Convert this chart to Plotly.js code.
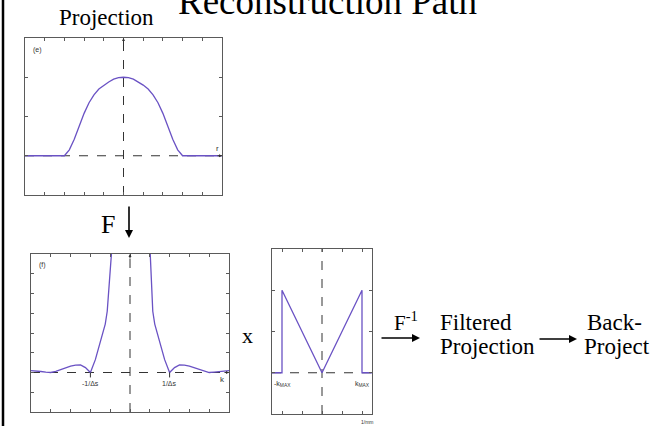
<!DOCTYPE html>
<html>
<head>
<meta charset="utf-8">
<script src="https://cdn.plot.ly/plotly-3.0.1.min.js"></script>
<style>html,body{margin:0;padding:0;background:#fff;}#chart{width:661px;height:426px;}</style>
</head>
<body>
<div id="chart"></div>
<script>
// ---- data ----
const projX = [-5, -4, -3, -2.75, -2.5, -2.25, -2, -1.75, -1.5, -1.25, -1, -0.75, -0.5, -0.25, 0, 0.25, 0.5, 0.75, 1, 1.25, 1.5, 1.75, 2, 2.25, 2.5, 2.75, 3, 4, 5];
const projY = [0, 0, 0, 0.15, 0.42, 0.75, 1.08, 1.35, 1.55, 1.7, 1.8, 1.88, 1.95, 1.99, 2.0, 1.99, 1.95, 1.88, 1.8, 1.7, 1.55, 1.35, 1.08, 0.75, 0.42, 0.15, 0, 0, 0];

const ftX = [-5, -4.75, -4.5, -4.25, -4, -3.75, -3.5, -3.25, -3, -2.75, -2.5, -2.25, -2, -1.75, -1.5, -1.25, -1.15, -1.0, -0.5, 0, 0.5, 1.0, 1.15, 1.25, 1.5, 1.75, 2, 2.25, 2.5, 2.75, 3, 3.25, 3.5, 3.75, 4, 4.25, 4.5, 4.75, 5];
const ftY = [0.09, 0.08, 0.05, 0.02, 0.0, 0.06, 0.15, 0.24, 0.32, 0.37, 0.38, 0.25, 0.0, 0.65, 1.55, 2.45, 3.1, 6.5, 12, 14, 12, 6.5, 3.1, 2.45, 1.55, 0.65, 0.0, 0.25, 0.38, 0.37, 0.32, 0.24, 0.15, 0.06, 0.0, 0.02, 0.05, 0.08, 0.09];

const filtX = [-2.5, -2, -2, 0, 2, 2, 2.5];
const filtY = [0, 0, 2, 0, 2, 0, 0];

const deltaLabels = ['-1/\u0394s', '1/\u0394s'];
const deltaPos = [-2, 2];
const kmaxLabels = ['-k<sub>MAX</sub>', 'k<sub>MAX</sub>'];
const kmaxPos = [-2, 2];

// ---- layout helpers ----
const W = 661, H = 426;
const px = x => x / W;
const py = y => 1 - y / H;
const purple = '#6a52c4';
const boxCol = '#5a5a5a';

function ax(domain, range, dtick) {
  return {
    domain: domain, range: range, dtick: dtick, tick0: 0,
    showgrid: false, zeroline: false, showticklabels: false,
    ticks: 'inside', ticklen: 3, tickcolor: boxCol, tickwidth: 1,
    showline: true, linecolor: boxCol, linewidth: 1, mirror: 'ticks',
    fixedrange: true
  };
}

const traces = [
  {x: projX, y: projY, xaxis: 'x', yaxis: 'y', mode: 'lines', line: {color: purple, width: 1.3}, hoverinfo: 'skip'},
  {x: ftX, y: ftY, xaxis: 'x2', yaxis: 'y2', mode: 'lines', line: {color: purple, width: 1.3}, hoverinfo: 'skip'},
  {x: filtX, y: filtY, xaxis: 'x3', yaxis: 'y3', mode: 'lines', line: {color: purple, width: 1.3}, hoverinfo: 'skip'}
];

const shapes = [];
[['x', 'y'], ['x2', 'y2'], ['x3', 'y3']].forEach(([xa, ya]) => {
  shapes.push({type: 'line', xref: xa, yref: ya + ' domain', x0: 0, x1: 0, y0: 0, y1: 1, layer: 'below',
    line: {color: '#333', width: 1, dash: 'dash'}});
  shapes.push({type: 'line', xref: xa + ' domain', yref: ya, x0: 0, x1: 1, y0: 0, y1: 0, layer: 'below',
    line: {color: '#333', width: 1, dash: 'dash'}});
});
// small tick marks at the +-1/Δs zeros
deltaPos.forEach(v => {
  shapes.push({type: 'line', xref: 'x2', yref: 'y2', x0: v, x1: v, y0: 0, y1: -0.25, line: {color: '#333', width: 1}});
});
// left border bar
shapes.push({type: 'line', xref: 'paper', yref: 'paper', x0: px(3), x1: px(3), y0: 0, y1: 1, line: {color: '#000', width: 2.5}});

const serif = 'Liberation Serif';
const sans = 'Liberation Sans, Arial, sans-serif';
function txt(text, x, y, size, opts) {
  return Object.assign({text: text, x: px(x), y: py(y), xref: 'paper', yref: 'paper', showarrow: false,
    xanchor: 'center', yanchor: 'middle', font: {family: serif, size: size, color: '#000'}}, opts || {});
}
function arrow(hx, hy, dx, dy, w, size) {
  return {text: '', x: px(hx), y: py(hy), xref: 'paper', yref: 'paper', showarrow: true,
    ax: dx, ay: dy, arrowhead: 2, arrowsize: size || 1, arrowwidth: w || 1.5, arrowcolor: '#000'};
}

const annotations = [
  txt('Reconstruction Path', 328, 2, 37),
  txt('Projection', 106.5, 18, 23),
  txt('F', 107.5, 224, 26),
  txt('x', 247, 335, 22),
  txt('F<sup>-1</sup>', 392, 321, 21, {xanchor: 'left'}),
  txt('Filtered', 438, 322, 23, {xanchor: 'left'}),
  txt('Projection', 438, 346, 23, {xanchor: 'left'}),
  txt('Back-', 585, 322, 23, {xanchor: 'left'}),
  txt('Project', 582, 346, 23, {xanchor: 'left'}),
  arrow(129, 238, 0, -33, 1.6, 1),
  arrow(420, 338, -40, 0, 1.6, 1),
  arrow(577, 339, -39, 0, 1.6, 1),
  txt('(e)', 37, 50, 7, {font: {family: sans, size: 7, color: '#333'}}),
  txt('r', 217, 148, 8, {font: {family: sans, size: 8, color: '#333'}}),
  txt('(f)', 42, 265, 7, {font: {family: sans, size: 7, color: '#333'}}),
  txt('k', 222, 379, 8, {font: {family: sans, size: 8, color: '#333'}}),
  txt('1/mm', 367, 422, 5, {font: {family: sans, size: 5, color: '#333'}}),
  // axis arrowheads
  {text: '', x: 0, y: 1, xref: 'x', yref: 'y domain', showarrow: true, ax: 0, ay: 6, arrowhead: 2, arrowsize: 0.6, arrowwidth: 1, arrowcolor: '#333'},
  {text: '', x: 1, y: 0, xref: 'x domain', yref: 'y', showarrow: true, ax: -6, ay: 0, arrowhead: 2, arrowsize: 0.6, arrowwidth: 1, arrowcolor: '#333'},
  {text: '', x: 0, y: 1, xref: 'x2', yref: 'y2 domain', showarrow: true, ax: 0, ay: 6, arrowhead: 2, arrowsize: 0.6, arrowwidth: 1, arrowcolor: '#333'},
  {text: '', x: 1, y: 0, xref: 'x2 domain', yref: 'y2', showarrow: true, ax: -6, ay: 0, arrowhead: 2, arrowsize: 0.6, arrowwidth: 1, arrowcolor: '#333'}
];
deltaLabels.forEach((t, i) => {
  annotations.push({text: t, x: deltaPos[i], y: -0.3, xref: 'x2', yref: 'y2', showarrow: false, yanchor: 'top',
    font: {family: sans, size: 7, color: '#333'}});
});
kmaxLabels.forEach((t, i) => {
  annotations.push({text: t, x: kmaxPos[i], y: -0.12, xref: 'x3', yref: 'y3', showarrow: false, yanchor: 'top',
    font: {family: sans, size: 7, color: '#333'}});
});

const layout = {
  width: W, height: H,
  margin: {l: 0, r: 0, t: 0, b: 0},
  paper_bgcolor: '#fff', plot_bgcolor: '#fff',
  showlegend: false,
  xaxis: ax([px(25), px(222)], [-5, 5], 1),
  yaxis: ax([py(195), py(38)], [-1, 3], 1),
  xaxis2: Object.assign(ax([px(31), px(229)], [-5, 5], 1), {anchor: 'y2'}),
  yaxis2: Object.assign(ax([py(412), py(254)], [-2, 6], 1), {anchor: 'x2'}),
  xaxis3: Object.assign(ax([px(272), px(372)], [-2.5, 2.5], 1), {anchor: 'y3'}),
  yaxis3: Object.assign(ax([py(414), py(249)], [-1, 3], 1), {anchor: 'x3'}),
  shapes: shapes,
  annotations: annotations
};
layout.xaxis.anchor = 'y';
layout.yaxis.anchor = 'x';

Plotly.newPlot('chart', traces, layout, {staticPlot: true, displayModeBar: false});
</script>
</body>
</html>
